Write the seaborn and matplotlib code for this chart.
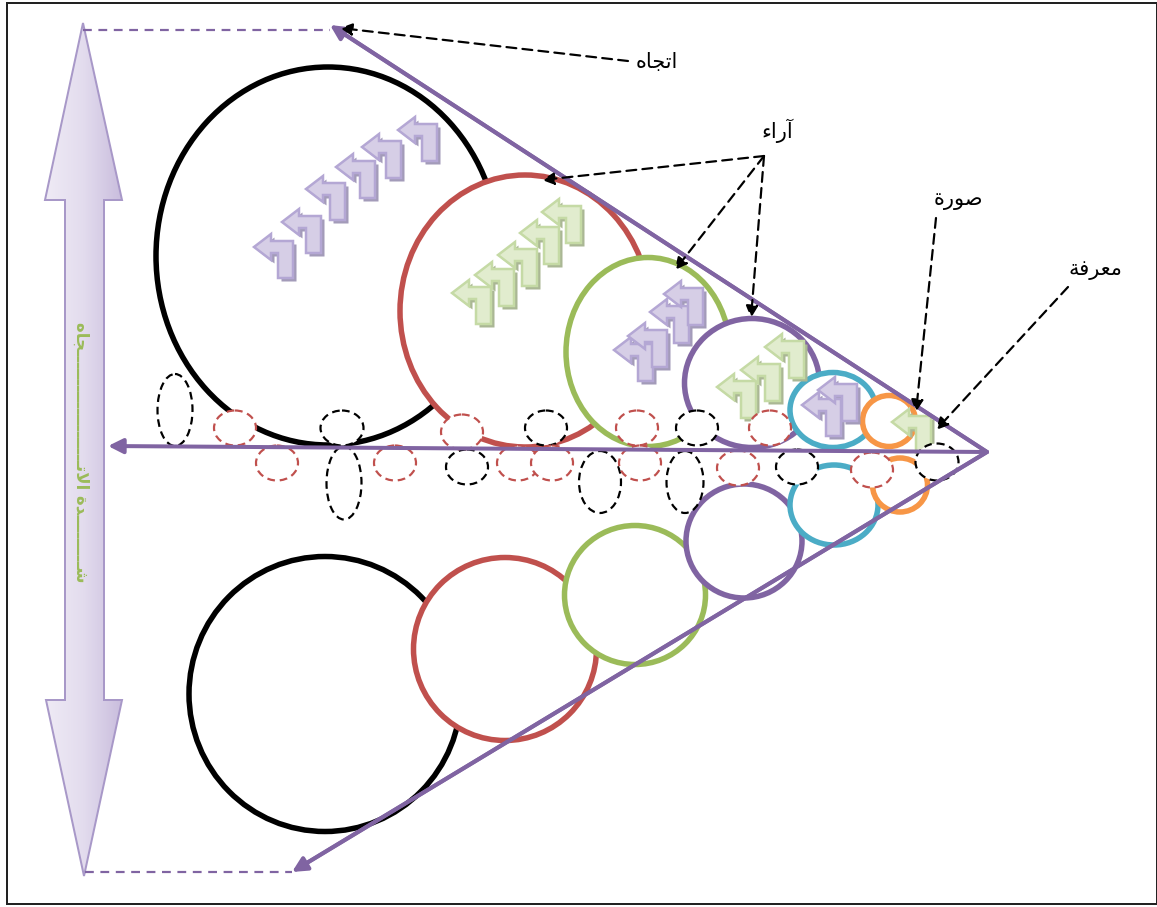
import numpy as np
import pandas as pd
import matplotlib
matplotlib.use("Agg")
import matplotlib.pyplot as plt
from matplotlib.patches import Ellipse, Polygon, Rectangle, FancyArrowPatch
import seaborn as sns

# ---------------- data (pixel space of the diagram) ----------------
FIG_W, FIG_H = 1157, 907

apex = (987, 452)
cone_top_end = (330, 25)
cone_bottom_end = (292, 872)
axis_left_end = (108, 446)

ring_colors = ["#000000", "#c0504d", "#9bbb59", "#8064a2", "#4bacc6", "#f79646"]
upper_cx = [328, 525, 648, 752, 833, 889]
upper_cy = [256, 311, 352, 383, 410, 421]
upper_w = [344, 250, 164, 135, 86, 53]
upper_h = [378, 272, 189, 129, 75, 51]
lower_cx = [325, 505, 635, 744, 834, 900]
lower_cy = [694, 649, 595, 541, 505, 485]
lower_w = [272, 183, 141, 116, 88, 55]
lower_h = [275, 183, 139, 114, 80, 54]

dash_black_x = [175, 342, 344, 467, 546, 600, 697, 685, 797, 937]
dash_black_y = [410, 428, 483, 467, 428, 482, 428, 482, 467, 462]
dash_black_w = [35, 43, 35, 42, 42, 42, 42, 37, 42, 43]
dash_black_h = [72, 35, 73, 35, 35, 62, 35, 62, 35, 37]
dash_red_x = [235, 277, 395, 462, 518, 552, 637, 640, 738, 770, 872]
dash_red_y = [428, 463, 463, 432, 463, 463, 428, 463, 468, 428, 470]

glyph_purple_x = [254, 282, 306, 336, 362, 398, 614, 628, 650, 664, 802, 818]
glyph_purple_y = [247, 222, 189, 167, 147, 130, 350, 336, 312, 294, 405, 390]
glyph_green_x = [452, 475, 498, 520, 542, 717, 741, 765, 892]
glyph_green_y = [293, 275, 255, 233, 212, 387, 370, 347, 422]

# labels (Arabic, pre-shaped into presentation forms, visual order)
label_texts = ["\uFEE9\uFE8E\uFEA0\uFE97\uFE8D",        # اتجاه
               "\uFE80\uFE8D\uFEAD\uFE81",              # آراء
               "\uFE93\uFEAD\uFEEE\uFEBB",              # صورة
               "\uFE94\uFED3\uFEAE\uFECC\uFEE3"]        # معرفة
label_x = [657, 777, 958, 1095]
label_y = [62, 131, 200, 270]

# dashed pointer arrows: start -> end
ptr_start_x = [628, 764, 764, 764, 936, 1068]
ptr_start_y = [61, 156, 156, 156, 218, 287]
ptr_end_x = [340, 542, 675, 751, 916, 936]
ptr_end_y = [28, 180, 270, 318, 412, 430]

side_text = ("\uFEE9\uFE8E\uFEA0" + "\u0640" * 20 + "\uFE97\uFEFB\uFE8D" + " "
             + "\uFE93\uFEAA" + "\u0640" * 9 + "\uFEB7")  # شدة الاتجاه

# ---------------- style ----------------
sns.set_theme(style="white")
plt.rcParams["font.family"] = ["DejaVu Sans"]
PURPLE = "#8064a2"

def px(v):
    return v * 0.72

fig = plt.figure(figsize=(FIG_W / 100, FIG_H / 100), dpi=100)
ax = fig.add_axes([0, 0, 1, 1])
ax.set_xlim(0, FIG_W)
ax.set_ylim(FIG_H, 0)
ax.axis("off")

# frame
ax.add_patch(Rectangle((7, 3), 1150, 901, fill=False, edgecolor="#222222", lw=px(2), zorder=1))

# big double arrow with gradient
dbl = [(83, 23), (122, 200), (104, 200), (104, 700), (122, 700), (84, 876),
       (46, 700), (65, 700), (65, 200), (45, 200)]
dbl_patch = Polygon(dbl, closed=True, facecolor="none", edgecolor="#a898c8", lw=px(2), zorder=3)
ax.add_patch(dbl_patch)
grad = np.linspace(0, 1, 256).reshape(1, -1)
cmap = matplotlib.colors.LinearSegmentedColormap.from_list(
    "lav", ["#efebf5", "#e3dcee", "#c9bddd"])
im = ax.imshow(grad, extent=(45, 122, 876, 23), cmap=cmap, aspect="auto", zorder=2)
clip = Polygon(dbl, closed=True, transform=ax.transData)
im.set_clip_path(clip)
ax.text(81, 452, side_text, rotation=270, color="#9bbb59", fontsize=12,
        fontweight="bold", ha="center", va="center", zorder=4)

# dashed purple guides
guide = pd.DataFrame({"x": [83, cone_top_end[0], 85, cone_bottom_end[0]],
                      "y": [30, 30, 872, 872], "g": ["t", "t", "b", "b"]})
for g, d in guide.groupby("g"):
    sns.lineplot(data=d, x="x", y="y", ax=ax, color=PURPLE, lw=px(2.2),
                 linestyle=(0, (4, 3)), sort=False, zorder=3)

# rings (white filled)
for cx, cy, w, h, c in zip(upper_cx, upper_cy, upper_w, upper_h, ring_colors):
    ax.add_patch(Ellipse((cx, cy), w, h, facecolor="white", edgecolor=c, lw=px(5.5), zorder=5))
for cx, cy, w, h, c in zip(lower_cx, lower_cy, lower_w, lower_h, ring_colors):
    ax.add_patch(Ellipse((cx, cy), w, h, facecolor="white", edgecolor=c, lw=px(5.5), zorder=5))

# bent-arrow glyphs
shape = np.array([(0, 0), (17, -13), (17, -6), (39, -6), (39, 31), (24, 31),
                  (24, 6), (17, 6), (17, 13)], dtype=float)

def glyph(x, y, face, edge, shadow):
    ax.add_patch(Polygon(shape + (x + 3.5, y + 3.5), closed=True, facecolor=shadow,
                         edgecolor="none", zorder=8))
    ax.add_patch(Polygon(shape + (x, y), closed=True, facecolor=face,
                         edgecolor=edge, lw=px(2.5), zorder=9))

for x, y in zip(glyph_purple_x, glyph_purple_y):
    glyph(x, y, "#d6cee6", "#b4a7d4", "#a39bb9")
for x, y in zip(glyph_green_x, glyph_green_y):
    glyph(x, y, "#e1ecce", "#c5daa5", "#aab794")

# dashed small ellipses
for cx, cy, w, h in zip(dash_black_x, dash_black_y, dash_black_w, dash_black_h):
    ax.add_patch(Ellipse((cx, cy), w, h, facecolor="white", edgecolor="black",
                         lw=px(2.2), linestyle=(0, (3.5, 2.2)), zorder=10))
for cx, cy in zip(dash_red_x, dash_red_y):
    ax.add_patch(Ellipse((cx, cy), 42, 35, facecolor="white", edgecolor="#c0504d",
                         lw=px(2.2), linestyle=(0, (3.5, 2.2)), zorder=10))

# cone edges and axis
cone = pd.DataFrame({"x": [cone_top_end[0] + 8, apex[0], cone_bottom_end[0] + 8],
                     "y": [cone_top_end[1] + 5, apex[1], cone_bottom_end[1] - 5]})
sns.lineplot(data=cone, x="x", y="y", ax=ax, color=PURPLE, lw=px(4), sort=False, zorder=12)
for end in [cone_top_end, cone_bottom_end, axis_left_end]:
    ax.add_patch(FancyArrowPatch(apex, end, arrowstyle="-|>", mutation_scale=22,
                                 color=PURPLE, lw=px(4), shrinkA=0, shrinkB=0, zorder=12))

# pointer arrows
for sx, sy, ex, ey in zip(ptr_start_x, ptr_start_y, ptr_end_x, ptr_end_y):
    ax.add_patch(FancyArrowPatch((sx, sy), (ex, ey), arrowstyle="-|>", mutation_scale=18,
                                 color="black", lw=px(2.2), linestyle=(0, (4.5, 2.8)),
                                 shrinkA=0, shrinkB=0, zorder=14))

for t, x, y in zip(label_texts, label_x, label_y):
    ax.text(x, y, t, fontsize=15, color="black", ha="center", va="center", zorder=15)

fig.savefig("out.png", dpi=100)
